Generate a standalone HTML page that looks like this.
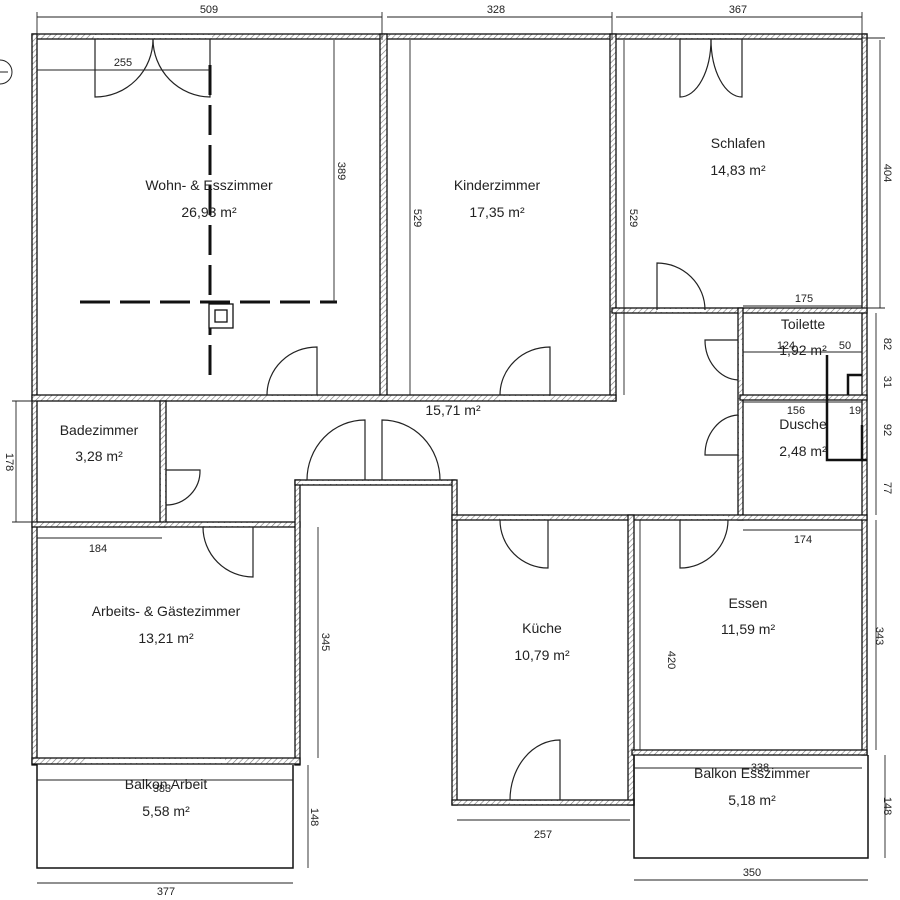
<!DOCTYPE html>
<html><head><meta charset="utf-8"><style>
html,body{margin:0;padding:0;background:#fff}
svg{display:block}
text{font-family:"Liberation Sans",sans-serif;fill:#222}
</style></head><body>
<svg width="900" height="900" viewBox="0 0 900 900" xmlns="http://www.w3.org/2000/svg">
<defs>
<pattern id="h" width="4" height="4" patternUnits="userSpaceOnUse" patternTransform="rotate(45)">
<rect width="4" height="4" fill="#fff"/><line x1="0" y1="0" x2="0" y2="4" stroke="#777" stroke-width="1.2"/>
</pattern>
</defs>
<g fill="url(#h)" stroke="#111" stroke-width="1.3">
<!-- top wall -->
<rect x="32" y="34" width="835" height="5"/>
<!-- left wall -->
<rect x="32" y="34" width="5" height="731"/>
<!-- Wohn/Kinder -->
<rect x="380" y="34" width="7" height="367"/>
<!-- Kinder/Schlafen -->
<rect x="610" y="34" width="6" height="367"/>
<!-- right wall -->
<rect x="862" y="34" width="5" height="721"/>
<!-- Schlafen bottom -->
<rect x="612" y="308" width="255" height="5"/>
<!-- hall top -->
<rect x="32" y="395" width="584" height="6"/>
<!-- corridor right wall -->
<rect x="738" y="308" width="5" height="212"/>
<!-- toilette/dusche -->
<rect x="740" y="395" width="127" height="5"/>
<!-- Bad right -->
<rect x="160" y="401" width="6" height="126"/>
<!-- Bad bottom -->
<rect x="32" y="522" width="268" height="5"/>
<!-- corridor stub -->
<rect x="295" y="480" width="5" height="285"/>
<rect x="295" y="480" width="160" height="5"/>
<!-- kitchen left -->
<rect x="452" y="480" width="5" height="325"/>
<!-- kitchen/essen top -->
<rect x="452" y="515" width="415" height="5"/>
<!-- kitchen/essen divider -->
<rect x="628" y="515" width="6" height="290"/>
<!-- kitchen bottom -->
<rect x="452" y="800" width="182" height="5"/>
<!-- Arbeits bottom -->
<rect x="32" y="758" width="268" height="6"/>
<!-- Essen bottom -->
<rect x="632" y="750" width="235" height="5"/>
</g>
<!-- wall openings (white) -->
<g fill="#fff" stroke="none">
<rect x="94" y="35" width="118" height="3"/>
<rect x="680" y="35" width="62" height="3"/>
<rect x="267" y="396" width="50" height="4"/>
<rect x="500" y="396" width="50" height="4"/>
<rect x="657" y="309" width="48" height="3"/>
<rect x="739" y="340" width="3" height="40"/>
<rect x="739" y="410" width="3" height="45"/>
<rect x="161" y="470" width="4" height="35"/>
<rect x="303" y="481" width="145" height="3"/>
<rect x="203" y="523" width="50" height="3"/>
<rect x="500" y="516" width="48" height="3"/>
<rect x="680" y="516" width="48" height="3"/>
<rect x="510" y="801" width="50" height="3"/>
<rect x="85" y="759" width="140" height="4"/>
</g>
<!-- doors -->
<g fill="none" stroke="#222" stroke-width="1.2">
<path d="M95 39V97A58 58 0 0 0 153 39"/>
<path d="M210 39V97A58 58 0 0 1 153 39"/>
<path d="M680 39V97A31 58 0 0 0 711 39"/>
<path d="M742 39V97A31 58 0 0 1 711 39"/>
<path d="M317 395V347A50 48 0 0 0 267 395"/>
<path d="M550 395V347A50 48 0 0 0 500 395"/>
<path d="M657 310V263A48 47 0 0 1 705 310"/>
<path d="M738 340H705A35 40 0 0 0 738 380"/>
<path d="M738 455H705A35 40 0 0 1 738 415"/>
<path d="M166 470H200A34 34 0 0 1 166 505"/>
<path d="M365 480V420A58 60 0 0 0 307 480"/>
<path d="M382 480V420A58 60 0 0 1 440 480"/>
<path d="M253 527V577A50 50 0 0 1 203 527"/>
<path d="M548 520V568A48 48 0 0 1 500 520"/>
<path d="M680 520V568A48 48 0 0 0 728 520"/>
<path d="M560 800V740A50 60 0 0 0 510 800"/>
</g>
<!-- balconies -->
<g fill="none" stroke="#111" stroke-width="1.5">
<path d="M37 765V868H293V765"/>
<path d="M634 755V858H868V755"/>
</g>
<!-- dashed beams -->
<g stroke="#111" stroke-width="3" stroke-dasharray="30,10" fill="none">
<line x1="80" y1="302" x2="337" y2="302"/>
<line x1="210" y1="65" x2="210" y2="375"/>
</g>
<rect x="209" y="304" width="24" height="24" fill="#fff" stroke="#111" stroke-width="1.3"/>
<rect x="215" y="310" width="12" height="12" fill="#fff" stroke="#111" stroke-width="1.3"/>
<!-- shower lines -->
<g stroke="#111" stroke-width="2.5" fill="none">
<path d="M827 355V460H867"/>
<path d="M848 395V375H862"/>
<line x1="862" y1="425" x2="862" y2="460"/>
</g>
<!-- dimension lines -->
<g stroke="#222" stroke-width="0.9" fill="none">
<line x1="37" y1="17" x2="382" y2="17"/><line x1="37" y1="12" x2="37" y2="40"/><line x1="382" y1="12" x2="382" y2="40"/>
<line x1="387" y1="17" x2="612" y2="17"/><line x1="612" y1="12" x2="612" y2="40"/>
<line x1="616" y1="17" x2="862" y2="17"/><line x1="862" y1="12" x2="862" y2="40"/>
<line x1="37" y1="70" x2="210" y2="70"/>
<line x1="334" y1="40" x2="334" y2="302"/>
<line x1="410" y1="40" x2="410" y2="395"/>
<line x1="624" y1="40" x2="624" y2="395"/>
<line x1="880" y1="40" x2="880" y2="308"/><line x1="862" y1="38" x2="885" y2="38"/><line x1="862" y1="308" x2="885" y2="308"/>
<line x1="743" y1="306" x2="862" y2="306"/>
<line x1="743" y1="352" x2="862" y2="352"/>
<line x1="876" y1="313" x2="876" y2="515"/>
<line x1="743" y1="402" x2="862" y2="402"/>
<line x1="743" y1="530" x2="862" y2="530"/>
<line x1="16" y1="401" x2="16" y2="522"/><line x1="12" y1="401" x2="37" y2="401"/><line x1="12" y1="522" x2="37" y2="522"/>
<line x1="37" y1="538" x2="162" y2="538"/>
<line x1="318" y1="527" x2="318" y2="758"/>
<line x1="640" y1="520" x2="640" y2="750"/>
<line x1="876" y1="520" x2="876" y2="750"/>
<line x1="37" y1="780" x2="293" y2="780"/>
<line x1="308" y1="765" x2="308" y2="868"/>
<line x1="37" y1="883" x2="293" y2="883"/>
<line x1="457" y1="820" x2="630" y2="820"/>
<line x1="634" y1="768" x2="862" y2="768"/>
<line x1="885" y1="755" x2="885" y2="858"/>
<line x1="634" y1="880" x2="868" y2="880"/>
</g>
<!-- dims text -->
<g font-size="11" text-anchor="middle">
<text x="209" y="13">509</text>
<text x="496" y="13">328</text>
<text x="738" y="13">367</text>
<text x="123" y="66">255</text>
<text x="804" y="302">175</text>
<text x="786" y="349">124</text>
<text x="845" y="349">50</text>
<text x="796" y="414">156</text>
<text x="855" y="414">19</text>
<text x="803" y="543">174</text>
<text x="98" y="552">184</text>
<text x="543" y="838">257</text>
<text x="166" y="895">377</text>
<text x="752" y="876">350</text>
<text x="162" y="792">383</text>
<text x="760" y="771">338</text>
</g>
<g font-size="11" text-anchor="middle">
<text transform="translate(338,171) rotate(90)">389</text>
<text transform="translate(414,218) rotate(90)">529</text>
<text transform="translate(630,218) rotate(90)">529</text>
<text transform="translate(884,173) rotate(90)">404</text>
<text transform="translate(884,344) rotate(90)">82</text>
<text transform="translate(884,382) rotate(90)">31</text>
<text transform="translate(884,430) rotate(90)">92</text>
<text transform="translate(884,488) rotate(90)">77</text>
<text transform="translate(6,462) rotate(90)">178</text>
<text transform="translate(322,642) rotate(90)">345</text>
<text transform="translate(668,660) rotate(90)">420</text>
<text transform="translate(876,636) rotate(90)">343</text>
<text transform="translate(311,817) rotate(90)">148</text>
<text transform="translate(884,806) rotate(90)">148</text>
</g>
<!-- room labels -->
<g font-size="14" text-anchor="middle">
<text x="209" y="190">Wohn- &amp; Esszimmer</text><text x="209" y="217">26,93 m²</text>
<text x="497" y="190">Kinderzimmer</text><text x="497" y="217">17,35 m²</text>
<text x="738" y="148">Schlafen</text><text x="738" y="175">14,83 m²</text>
<text x="803" y="329">Toilette</text><text x="803" y="355">1,92 m²</text>
<text x="803" y="429">Dusche</text><text x="803" y="456">2,48 m²</text>
<text x="453" y="415">15,71 m²</text>
<text x="99" y="435">Badezimmer</text><text x="99" y="461">3,28 m²</text>
<text x="166" y="616">Arbeits- &amp; Gästezimmer</text><text x="166" y="643">13,21 m²</text>
<text x="542" y="633">Küche</text><text x="542" y="660">10,79 m²</text>
<text x="748" y="608">Essen</text><text x="748" y="634">11,59 m²</text>
<text x="166" y="789">Balkon Arbeit</text><text x="166" y="816">5,58 m²</text>
<text x="752" y="778">Balkon Esszimmer</text><text x="752" y="805">5,18 m²</text>
</g>
<!-- compass fragment -->
<path d="M0 60A12 12 0 0 1 0 84" fill="none" stroke="#222"/>
<line x1="0" y1="72" x2="8" y2="72" stroke="#222"/>
</svg>
</body></html>
